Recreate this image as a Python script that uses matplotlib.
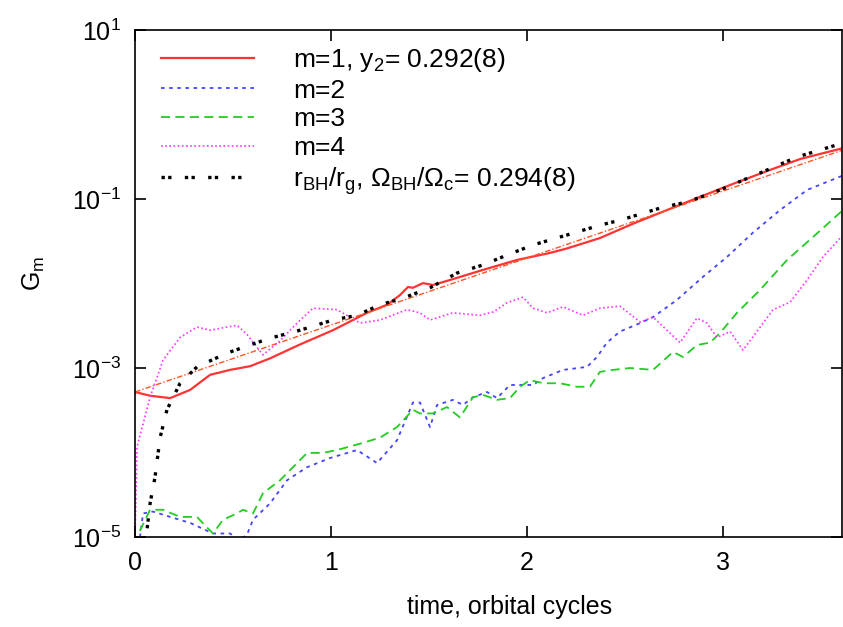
import matplotlib
matplotlib.use('Agg')
import matplotlib.pyplot as plt
from matplotlib.ticker import FixedLocator, NullLocator

plt.rcParams['font.family'] = ['Liberation Sans', 'DejaVu Sans']
plt.rcParams['mathtext.fontset'] = 'custom'
plt.rcParams['mathtext.rm'] = 'Liberation Sans'
plt.rcParams['mathtext.it'] = 'Liberation Sans'
plt.rcParams['mathtext.default'] = 'regular'

# m=1 mode
t_m1 = [0.0, 0.077, 0.179, 0.281, 0.383, 0.485, 0.587, 0.689, 0.842, 1.010,
        1.184, 1.286, 1.352, 1.393, 1.418, 1.469, 1.520, 1.607, 1.776, 1.949,
        2.117, 2.204, 2.372, 2.541, 2.714, 2.883, 3.051, 3.224, 3.393, 3.612]
g_m1 = [5.2e-4, 4.7e-4, 4.4e-4, 5.5e-4, 8.3e-4, 9.5e-4, 1.05e-3, 1.3e-3, 1.9e-3, 2.8e-3,
        4.5e-3, 5.6e-3, 7.3e-3, 9.1e-3, 8.9e-3, 1.01e-2, 9.6e-3, 1.1e-2, 1.45e-2, 1.9e-2,
        2.3e-2, 2.6e-2, 3.45e-2, 5.1e-2, 7.4e-2, 0.106, 0.151, 0.214, 0.297, 0.40]

# exponential fit to m=1
t_fit = [0.0, 3.612]
g_fit = [5.2e-4, 0.38]

# m=2 mode
t_m2 = [0.02, 0.041, 0.092, 0.179, 0.281, 0.398, 0.485, 0.536, 0.571, 0.602,
        0.689, 0.776, 0.878, 0.995, 1.133, 1.235, 1.337, 1.418, 1.454, 1.505,
        1.541, 1.622, 1.673, 1.724, 1.796, 1.847, 1.913, 2.031, 2.082, 2.184,
        2.306, 2.357, 2.408, 2.474, 2.577, 2.643, 2.765, 2.898, 3.020, 3.153,
        3.291, 3.429, 3.612]
g_m2 = [8e-6, 1.9e-5, 2.0e-5, 1.73e-5, 1.47e-5, 1.1e-5, 1.1e-5, 9.2e-6, 1.06e-5, 1.6e-5,
        2.5e-5, 4.7e-5, 6.7e-5, 8.6e-5, 1.07e-4, 7.5e-5, 1.4e-4, 3.9e-4, 3.9e-4, 2.0e-4,
        3.65e-4, 4.2e-4, 3.65e-4, 4.5e-4, 5.2e-4, 4.4e-4, 6.3e-4, 6.3e-4, 7.6e-4, 9.5e-4,
        1.03e-3, 1.35e-3, 2.0e-3, 2.7e-3, 3.4e-3, 4.0e-3, 6.4e-3, 1.2e-2, 2.06e-2, 4.0e-2,
        7.4e-2, 0.128, 0.19]

# m=3 mode
t_m3 = [0.01, 0.026, 0.077, 0.143, 0.230, 0.316, 0.367, 0.398, 0.449, 0.520,
        0.551, 0.602, 0.653, 0.740, 0.806, 0.878, 0.959, 1.031, 1.163, 1.25,
        1.337, 1.418, 1.454, 1.520, 1.592, 1.658, 1.724, 1.776, 1.847, 1.913,
        1.964, 2.015, 2.082, 2.168, 2.255, 2.321, 2.372, 2.439, 2.526, 2.643,
        2.745, 2.796, 2.867, 2.934, 2.985, 3.071, 3.189, 3.327, 3.459, 3.612]
g_m3 = [8e-6, 1.2e-5, 2.1e-5, 2.1e-5, 1.73e-5, 1.73e-5, 1.3e-5, 1.1e-5, 1.6e-5, 1.9e-5,
        2.1e-5, 1.9e-5, 3.3e-5, 4.7e-5, 6.7e-5, 9.9e-5, 9.9e-5, 1.07e-4, 1.3e-4, 1.5e-4,
        2.0e-4, 3.2e-4, 2.9e-4, 2.9e-4, 3.45e-4, 2.6e-4, 4.5e-4, 4.8e-4, 4.2e-4, 4.4e-4,
        6.0e-4, 7.2e-4, 6.6e-4, 6.6e-4, 6.0e-4, 6.0e-4, 9.0e-4, 9.5e-4, 1.0e-3, 9.5e-4,
        1.55e-3, 1.35e-3, 1.87e-3, 2.0e-3, 2.6e-3, 4.5e-3, 8.4e-3, 1.9e-2, 3.55e-2, 7.4e-2]

# m=4 mode
t_m4 = [0.0, 0.005, 0.010, 0.077, 0.143, 0.230, 0.316, 0.383, 0.520, 0.571,
        0.653, 0.740, 0.827, 0.908, 1.031, 1.148, 1.25, 1.388, 1.454, 1.505,
        1.622, 1.760, 1.827, 1.898, 1.980, 2.031, 2.102, 2.184, 2.286, 2.372,
        2.474, 2.577, 2.643, 2.781, 2.867, 2.918, 2.969, 3.036, 3.102, 3.173,
        3.255, 3.342, 3.429, 3.510, 3.612]
g_m4 = [1.0e-5, 3e-5, 1.16e-4, 4.5e-4, 1.24e-3, 2.3e-3, 3.05e-3, 2.8e-3, 3.2e-3, 2.5e-3,
        1.43e-3, 2.1e-3, 3.4e-3, 5.1e-3, 4.9e-3, 3.4e-3, 3.7e-3, 4.9e-3, 4.5e-3, 3.7e-3,
        4.5e-3, 4.2e-3, 4.6e-3, 5.9e-3, 6.9e-3, 5.1e-3, 4.5e-3, 5.3e-3, 4.2e-3, 5.1e-3,
        5.4e-3, 3.5e-3, 4.0e-3, 2.0e-3, 3.9e-3, 3.4e-3, 2.3e-3, 2.7e-3, 1.63e-3, 2.7e-3,
        4.9e-3, 6.0e-3, 1.1e-2, 2.06e-2, 3.75e-2]

# black hole radius ratio
t_bh = [0.04, 0.061, 0.077, 0.102, 0.128, 0.163, 0.230, 0.316, 0.469, 0.622,
        0.704, 0.842, 1.010, 1.133, 1.25, 1.367, 1.505, 1.643, 1.776, 1.898,
        2.031, 2.204, 2.372, 2.474, 2.694, 2.816, 2.985, 3.224, 3.378, 3.495, 3.612]
g_bh = [1e-6, 1.2e-5, 2.5e-5, 5.1e-5, 1.5e-4, 3.2e-4, 6.6e-4, 1.03e-3, 1.5e-3, 2.0e-3,
        2.3e-3, 2.8e-3, 3.7e-3, 4.2e-3, 5.6e-3, 6.7e-3, 8.9e-3, 1.33e-2, 1.66e-2, 2.17e-2,
        2.86e-2, 3.75e-2, 4.9e-2, 5.6e-2, 8.0e-2, 9.2e-2, 0.128, 0.22, 0.314, 0.38, 0.46]

fig = plt.figure(figsize=(8.43, 6.27), dpi=100)
ax = fig.add_axes([135 / 843, 90 / 627, 707 / 843, 507 / 627])

l1, = ax.plot(t_m1, g_m1, color='#ff3333', lw=1.6, ls='-',
              label=r'm=1, y$_2$= 0.292(8)')
ax.plot(t_fit, g_fit, color='#ff5522', lw=1.0, ls=(0, (4, 1.5, 1, 1.5)))
l2, = ax.plot(t_m2, g_m2, color='#4444ff', lw=1.3, ls=(0, (2, 2.5)), label='m=2')
l3, = ax.plot(t_m3, g_m3, color='#22cc22', lw=1.3, ls=(0, (5, 3)), label='m=3')
l4, = ax.plot(t_m4, g_m4, color='#ff33ff', lw=1.2, ls=(0, (1, 1.5)), label='m=4')
l5, = ax.plot(t_bh, g_bh, color='black', lw=2.4, ls=(0, (1, 1, 1, 4)),
              label=r'r$_{BH}$/r$_g$, $\Omega_{BH}$/$\Omega_c$= 0.294(8)')

ax.set_yscale('log')
ax.set_xlim(0, 3.607)
ax.set_ylim(1e-5, 10)
ax.yaxis.set_major_locator(FixedLocator([1e-5, 1e-3, 1e-1, 1e1]))
ax.yaxis.set_minor_locator(NullLocator())
ax.set_yticklabels([r'$10^{-5}$', r'$10^{-3}$', r'$10^{-1}$', r'$10^{1}$'])
ax.set_xticks([0, 1, 2, 3])
ax.tick_params(direction='in', top=True, right=True, length=8, width=1.2,
               labelsize=18, pad=10)
for s in ax.spines.values():
    s.set_linewidth(1.2)

ax.set_xlabel('time, orbital cycles', fontsize=18)
ax.xaxis.set_label_coords(0.53, -0.115)
ax.set_ylabel(r'G$_m$', fontsize=18)
ax.yaxis.set_label_coords(-0.125, 0.52)

leg = ax.legend(handles=[l1, l2, l3, l4, l5], loc='upper left', frameon=False,
                fontsize=19, handlelength=3.5, handletextpad=1.5,
                labelspacing=0.18, borderaxespad=0.2, bbox_to_anchor=(0.015, 1.0))

fig.savefig('out.png', dpi=100)
